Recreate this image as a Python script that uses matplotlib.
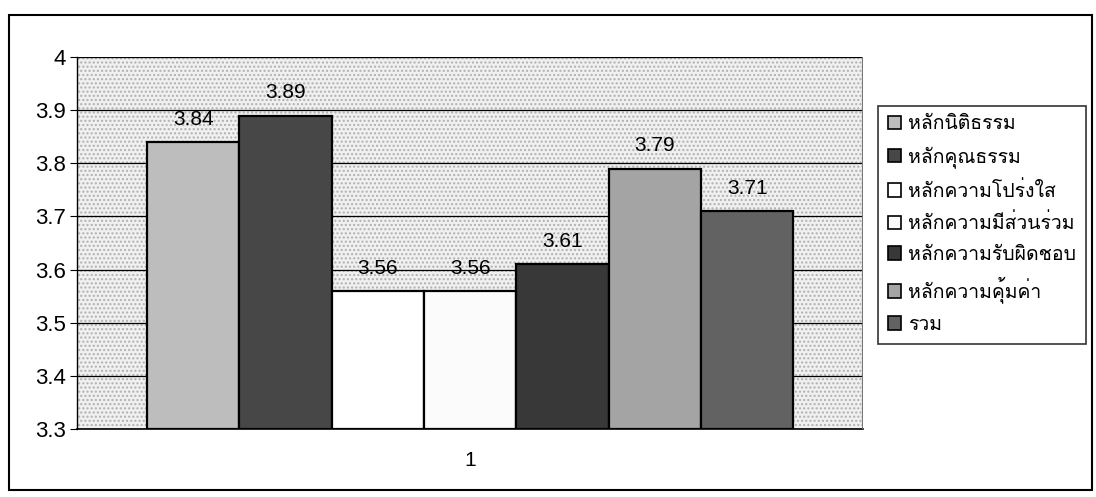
import matplotlib.pyplot as plt
import matplotlib.font_manager as fm
from matplotlib.ft2font import FT2Font
from matplotlib.patches import Rectangle

series = ["หลักนิติธรรม", "หลักคุณธรรม", "หลักความโปร่งใส", "หลักความมีส่วนร่วม",
          "หลักความรับผิดชอบ", "หลักความคุ้มค่า", "รวม"]
values = [3.84, 3.89, 3.56, 3.56, 3.61, 3.79, 3.71]
labels = ["3.84", "3.89", "3.56", "3.56", "3.61", "3.79", "3.71"]
category = "1"
yticks = [3.3, 3.4, 3.5, 3.6, 3.7, 3.8, 3.9, 4]
ytick_labels = ["3.3", "3.4", "3.5", "3.6", "3.7", "3.8", "3.9", "4"]

colors = ["#bdbdbd", "#474747", "#ffffff", "#fbfbfb", "#383838", "#a4a4a4", "#626262"]

# หา font ที่มีอักษรไทย
thai_font = None
for f in fm.fontManager.ttflist:
    try:
        if ord("ห") in FT2Font(f.fname).get_charmap():
            thai_font = f.name
            break
    except Exception:
        pass
fams = ["Liberation Sans", "DejaVu Sans"]
if thai_font:
    fams = ["Liberation Sans", thai_font, "DejaVu Sans"]
plt.rcParams["font.family"] = fams

fig = plt.figure(figsize=(10.96, 4.97), dpi=100)
fig.patches.append(Rectangle((0.008, 0.015), 0.988, 0.955, transform=fig.transFigure,
                             fill=False, edgecolor="black", linewidth=1.5))
ax = fig.add_axes([0.070, 0.137, 0.717, 0.748])

# พื้นหลังแบบจุด
ax.add_patch(Rectangle((0, 0), 1, 1, transform=ax.transAxes, facecolor="#f0f0f0",
                       hatch="....", edgecolor="#b0b0b0", linewidth=0, zorder=0))

x = list(range(len(values)))
ax.bar(x, [v - 3.3 for v in values], bottom=3.3, width=1.0, color=colors,
       edgecolor="black", linewidth=1.6, zorder=3)

for xi, v, t in zip(x, values, labels):
    ax.text(xi, v + 0.025, t, ha="center", va="bottom", fontsize=15, zorder=4)

ax.set_ylim(3.3, 4.0)
ax.set_xlim(-1.26, 7.25)
ax.set_yticks(yticks)
ax.set_yticklabels(ytick_labels, fontsize=16)
ax.yaxis.grid(True, color="black", linewidth=0.9, zorder=1)
ax.set_axisbelow(True)
ax.set_xticks([3])
ax.set_xticklabels([category], fontsize=15)
ax.tick_params(axis="x", length=0, pad=16)
ax.tick_params(axis="y", length=5, pad=3)
for s in ["top", "right"]:
    ax.spines[s].set_visible(False)
ax.spines["left"].set_linewidth(1.0)
ax.spines["bottom"].set_linewidth(1.2)
ax.plot([1, 1], [0, 1], transform=ax.transAxes, color="#777777", linewidth=1.5, zorder=5)

handles = [Rectangle((0, 0), 1, 1, facecolor=c, edgecolor="black", linewidth=1.2) for c in colors]
leg = fig.legend(handles, series, loc="upper left", bbox_to_anchor=(0.801, 0.787),
                 fontsize=14, frameon=True, fancybox=False, edgecolor="black",
                 handlelength=0.7, handleheight=0.7, handletextpad=0.35,
                 labelspacing=0.66, borderpad=0.5, borderaxespad=0)
leg.get_frame().set_linewidth(1.2)

plt.savefig("out.png", dpi=100)
